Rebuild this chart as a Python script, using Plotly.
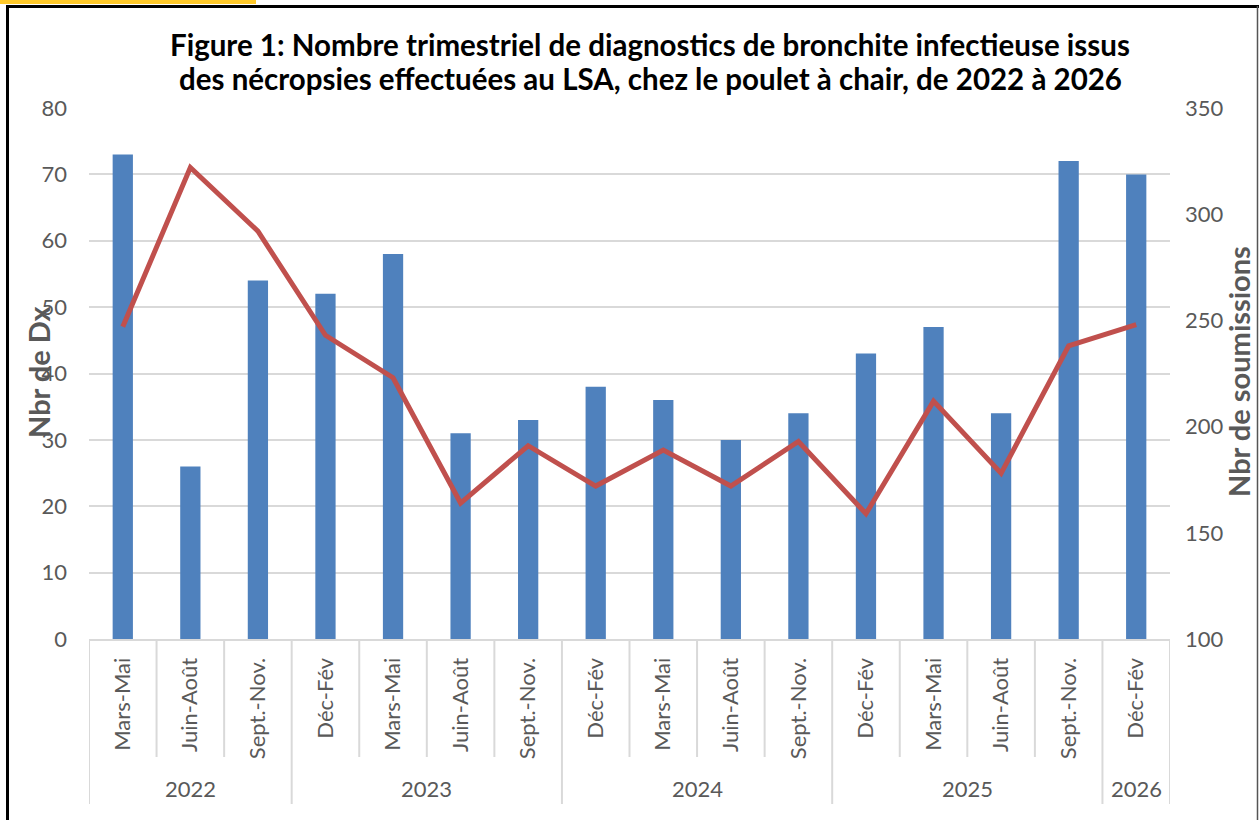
import plotly.graph_objects as go

years = ["2022", "2022", "2022",
         "2023", "2023", "2023", "2023",
         "2024", "2024", "2024", "2024",
         "2025", "2025", "2025", "2025",
         "2026"]
quarters = ["Mars-Mai", "Juin-Août", "Sept.-Nov.",
            "Déc-Fév", "Mars-Mai", "Juin-Août", "Sept.-Nov.",
            "Déc-Fév", "Mars-Mai", "Juin-Août", "Sept.-Nov.",
            "Déc-Fév", "Mars-Mai", "Juin-Août", "Sept.-Nov.",
            "Déc-Fév"]
nbr_dx = [73, 26, 54, 52, 58, 31, 33, 38, 36, 30, 34, 43, 47, 34, 72, 70]
nbr_soumissions = [247, 322, 292, 243, 223, 164, 191, 172, 189, 172, 193, 159, 212, 178, 238, 248]

W, H = 1259, 820
ML, MR, MT, MB = 89, 89, 108, 181
PW = W - ML - MR
PH = H - MT - MB

def px(x):
    return (x - ML) / PW

def py(y):
    return (H - MB - y) / PH

FONT = "Lato, Calibri, sans-serif"
GRAY = "#595959"
DIV = "#D9D9D9"

xpos = list(range(len(quarters)))

fig = go.Figure()
fig.add_trace(go.Bar(
    x=xpos, y=nbr_dx, name="Nbr de Dx",
    marker=dict(color="#4F81BD", line=dict(width=0)),
    width=0.3,
))
fig.add_trace(go.Scatter(
    x=xpos, y=nbr_soumissions, name="Nbr de soumissions",
    mode="lines", line=dict(color="#C0504D", width=5),
    yaxis="y2",
))

# year groups (derived from the years list)
groups = []
for i, yv in enumerate(years):
    if groups and groups[-1][0] == yv:
        groups[-1][2] = i
    else:
        groups.append([yv, i, i])

shapes = []
annotations = []
# inner tick separators and year dividers
for i in range(len(quarters) + 1):
    b = i - 0.5
    is_year_edge = (i == 0 or i == len(quarters) or years[i] != years[i - 1])
    y_end = 804 if is_year_edge else 757
    shapes.append(dict(type="line", xref="x", yref="paper", x0=b, x1=b,
                       y0=0, y1=py(y_end), line=dict(color=DIV, width=2)))
for yv, a, b in groups:
    annotations.append(dict(text=yv, xref="x", yref="paper", x=(a + b) / 2, y=py(788),
                            xanchor="center", yanchor="middle", showarrow=False,
                            font=dict(family=FONT, size=22, color=GRAY)))

annotations += [
    dict(text="<b>Figure 1: Nombre trimestriel de diagnostics de bronchite infectieuse issus</b>",
         xref="paper", yref="paper", x=px(650), y=py(44), xanchor="center", yanchor="middle",
         showarrow=False, font=dict(family=FONT, size=29.5, color="black")),
    dict(text="<b>des nécropsies effectuées au LSA, chez le poulet à chair, de 2022 à 2026</b>",
         xref="paper", yref="paper", x=px(650), y=py(78), xanchor="center", yanchor="middle",
         showarrow=False, font=dict(family=FONT, size=29.5, color="black")),
    dict(text="<b>Nbr de Dx</b>", textangle=-90, xref="paper", yref="paper",
         x=px(38), y=py(372), xanchor="center", yanchor="middle", showarrow=False,
         font=dict(family=FONT, size=29, color=GRAY)),
    dict(text="<b>Nbr de soumissions</b>", textangle=-90, xref="paper", yref="paper",
         x=px(1238), y=py(372), xanchor="center", yanchor="middle", showarrow=False,
         font=dict(family=FONT, size=29, color=GRAY)),
]

shapes += [
    dict(type="rect", xref="paper", yref="paper", x0=px(0), x1=px(256), y0=py(0), y1=py(4),
         fillcolor="#FFC929", line=dict(width=0), layer="above"),
    dict(type="line", xref="paper", yref="paper", x0=px(7.5), x1=px(7.5), y0=py(5), y1=py(H),
         line=dict(color="black", width=3)),
    dict(type="line", xref="paper", yref="paper", x0=px(6), x1=px(W), y0=py(6.5), y1=py(6.5),
         line=dict(color="black", width=3)),
    dict(type="line", xref="paper", yref="paper", x0=px(1257.5), x1=px(1257.5), y0=py(6), y1=py(H),
         line=dict(color="#555555", width=1.5)),
]

fig.update_layout(
    width=W, height=H,
    margin=dict(l=ML, r=MR, t=MT, b=MB, autoexpand=False),
    paper_bgcolor="white", plot_bgcolor="white",
    showlegend=False,
    font=dict(family=FONT, color=GRAY, size=22),
    xaxis=dict(
        range=[-0.5, len(quarters) - 0.5],
        tickmode="array", tickvals=xpos, ticktext=quarters,
        tickangle=-90, ticks="",
        showline=True, linecolor=DIV, linewidth=2,
        tickfont=dict(size=22, color=GRAY),
        ticklabelstandoff=8,
        showgrid=False, zeroline=False,
    ),
    yaxis=dict(
        range=[0, 80], dtick=10,
        showgrid=True, gridcolor=DIV, gridwidth=2,
        zeroline=False, showline=False,
        tickfont=dict(size=22, color=GRAY),
        ticklabelstandoff=21,
    ),
    yaxis2=dict(
        overlaying="y", side="right",
        range=[100, 350], dtick=50,
        showgrid=False, zeroline=False, showline=False,
        tickfont=dict(size=22, color=GRAY),
        ticklabelstandoff=14,
    ),
    annotations=annotations,
    shapes=shapes,
)

fig.write_html("out.html", config={"displayModeBar": False},
               post_script="document.body.style.margin='0';document.body.style.overflow='hidden';")
